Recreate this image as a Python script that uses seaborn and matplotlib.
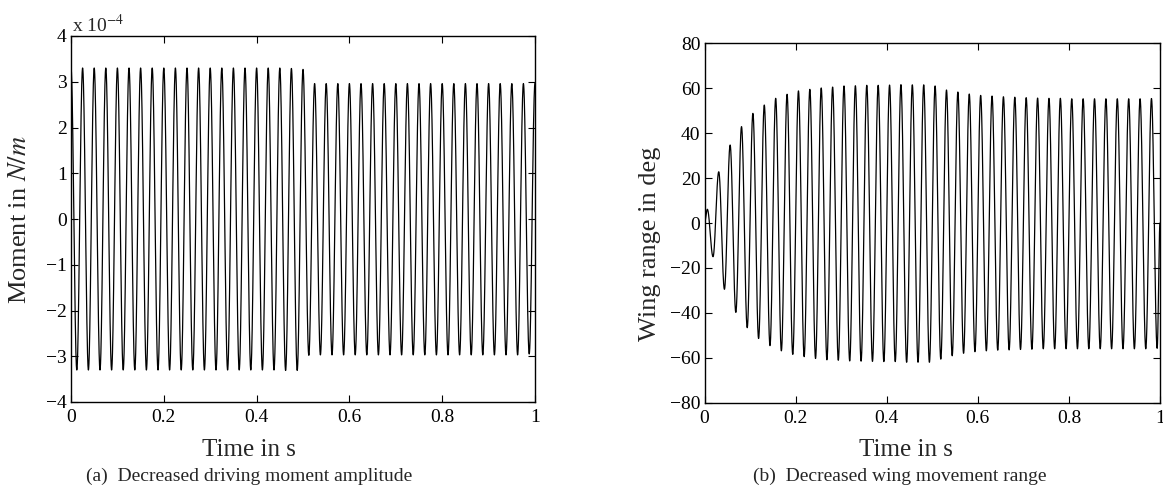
import numpy as np
import pandas as pd
import matplotlib
matplotlib.use("Agg")
import matplotlib.pyplot as plt
from matplotlib.ticker import FuncFormatter, FixedLocator
import seaborn as sns

# ---------------- data ----------------
FREQ_HZ = 40.0  # oscillation frequency (peaks every 0.025 s)

# (a) driving moment, in units of 1e-4 N/m : peaks at t = 0.025*k, troughs at 0.0125 + 0.025*k
moment_peaks_e4 = [3.30, 3.30, 3.30, 3.30, 3.30, 3.30, 3.30, 3.30, 3.30, 3.30,
                   3.30, 3.30, 3.30, 3.30, 3.30, 3.30, 3.30, 3.30, 3.30, 3.29,
                   3.27,
                   2.96, 2.96, 2.96, 2.96, 2.96, 2.96, 2.96, 2.96, 2.96, 2.96,
                   2.96, 2.96, 2.96, 2.96, 2.96, 2.96, 2.96, 2.96, 2.96, 2.97]
moment_troughs_e4 = [-3.30, -3.30, -3.30, -3.30, -3.30, -3.30, -3.30, -3.30, -3.30, -3.30,
                     -3.30, -3.30, -3.30, -3.30, -3.30, -3.30, -3.30, -3.30, -3.31, -3.31,
                     -2.98, -2.97, -2.97, -2.97, -2.97, -2.97, -2.97, -2.97, -2.97, -2.97,
                     -2.97, -2.97, -2.97, -2.97, -2.97, -2.97, -2.97, -2.97, -2.97, -2.95]

# (b) wing angle in deg : peaks at t = 0.00625 + 0.025*k, troughs at 0.01875 + 0.025*k
wing_peaks = [6.1, 22.8, 34.7, 42.9, 48.8, 52.5, 55.5, 57.3, 58.8, 59.5,
              60.1, 60.5, 61.0, 61.1, 61.3, 61.3, 61.4, 61.6, 61.5, 61.5,
              61.0, 59.2, 58.3, 57.4, 56.8, 56.5, 56.2, 56.0, 55.8, 55.6,
              55.5, 55.5, 55.3, 55.3, 55.3, 55.3, 55.3, 55.3, 55.3, 55.4]
wing_troughs = [-15.0, -29.5, -39.8, -46.6, -51.4, -54.6, -56.9, -58.5, -59.5, -60.3,
                -60.9, -61.1, -61.4, -61.5, -61.6, -61.7, -61.7, -62.0, -62.0, -62.0,
                -60.6, -59.1, -58.0, -57.3, -56.9, -56.6, -56.5, -56.3, -56.2, -56.0,
                -56.0, -56.0, -56.0, -56.0, -56.0, -56.0, -56.0, -56.0, -56.0, -55.8]
wing_start = 0.0
wing_end = 0.0

x_ticks = [0, 0.2, 0.4, 0.6, 0.8, 1]
moment_ticks_e4 = [-4, -3, -2, -1, 0, 1, 2, 3, 4]
wing_ticks = [-80, -60, -40, -20, 0, 20, 40, 60, 80]

xlabel_text = "Time in s"
ylabel_a = "Moment in $N/m$"
ylabel_b = "Wing range in deg"
caption_a = "(a)  Decreased driving moment amplitude"
caption_b = "(b)  Decreased wing movement range"


# ---------------- build the oscillation through the read extrema ----------------
def wave_through(ext_t, ext_v, t):
    ext_t = np.asarray(ext_t, float)
    ext_v = np.asarray(ext_v, float)
    idx = np.clip(np.searchsorted(ext_t, t, side="right") - 1, 0, len(ext_t) - 2)
    t0, t1 = ext_t[idx], ext_t[idx + 1]
    v0, v1 = ext_v[idx], ext_v[idx + 1]
    ph = np.clip((t - t0) / (t1 - t0), 0, 1)
    return v0 + (v1 - v0) * (1 - np.cos(np.pi * ph)) / 2


period = 1.0 / FREQ_HZ
t = np.linspace(0, 1, 20001)

# moment
mp_t = [period * k for k in range(len(moment_peaks_e4))]
mt_t = [period / 2 + period * k for k in range(len(moment_troughs_e4))]
m_ext = sorted(zip(mp_t + mt_t, [v * 1e-4 for v in moment_peaks_e4] + [v * 1e-4 for v in moment_troughs_e4]))
moment = wave_through([a for a, _ in m_ext], [b for _, b in m_ext], t)

# wing
wp_t = [period / 4 + period * k for k in range(len(wing_peaks))]
wt_t = [3 * period / 4 + period * k for k in range(len(wing_troughs))]
w_ext = sorted(zip([0.0] + wp_t + wt_t + [1.0], [wing_start] + wing_peaks + wing_troughs + [wing_end]))
wing = wave_through([a for a, _ in w_ext], [b for _, b in w_ext], t)

df_a = pd.DataFrame({"t": t, "v": moment})
df_b = pd.DataFrame({"t": t, "v": wing})

# ---------------- style ----------------
sns.set_style("white")
plt.rcParams["font.family"] = ["Liberation Serif", "DejaVu Serif"]
plt.rcParams["mathtext.fontset"] = "stix"
plt.rcParams["axes.edgecolor"] = "black"
plt.rcParams["axes.linewidth"] = 1.0
plt.rcParams["xtick.direction"] = "in"
plt.rcParams["ytick.direction"] = "in"

W, H = 1163, 488
fig = plt.figure(figsize=(W / 100, H / 100), dpi=100)

ax_a = fig.add_axes([71 / W, 1 - 402 / H, 464 / W, 366 / H])
ax_b = fig.add_axes([704.5 / W, 1 - 402.7 / H, 455.5 / W, 359.4 / H])

sns.lineplot(data=df_a, x="t", y="v", ax=ax_a, color="black", linewidth=0.9,
             estimator=None, sort=False, legend=False)
sns.lineplot(data=df_b, x="t", y="v", ax=ax_b, color="black", linewidth=0.9,
             estimator=None, sort=False, legend=False)

minus = "\u2212"

def fmt_num(v):
    s = f"{v:g}"
    return s.replace("-", minus)

for ax in (ax_a, ax_b):
    ax.set_xlim(0, 1)
    ax.xaxis.set_major_locator(FixedLocator(x_ticks))
    ax.xaxis.set_major_formatter(FuncFormatter(lambda v, p: fmt_num(round(v, 6))))
    ax.tick_params(axis="both", which="major", direction="in", length=5, width=0.8,
                   top=True, right=True, bottom=True, left=True, labelsize=14,
                   colors="black", pad=3)
    ax.tick_params(axis="x", pad=5)
    ax.set_xlabel("")
    ax.set_ylabel("")
    for s in ax.spines.values():
        s.set_visible(True)
        s.set_color("black")
        s.set_linewidth(1.0)
    ax.grid(False)

ax_a.set_ylim(-4e-4, 4e-4)
ax_a.yaxis.set_major_locator(FixedLocator([v * 1e-4 for v in moment_ticks_e4]))
ax_a.yaxis.set_major_formatter(FuncFormatter(lambda v, p: fmt_num(round(v * 1e4, 6))))

ax_b.set_ylim(-80, 80)
ax_b.yaxis.set_major_locator(FixedLocator(wing_ticks))
ax_b.yaxis.set_major_formatter(FuncFormatter(lambda v, p: fmt_num(v)))

# offset text of (a)
fig.text(72 / W, 1 - 32 / H, r"x 10$^{-4}$", fontsize=14, ha="left", va="baseline")

# axis labels
fig.text(249 / W, 1 - 450 / H, xlabel_text, fontsize=18, ha="center", va="center")
fig.text(906 / W, 1 - 450 / H, xlabel_text, fontsize=18, ha="center", va="center")
fig.text(20 / W, 1 - 220 / H, ylabel_a, fontsize=19, ha="center", va="center", rotation=90)
fig.text(650 / W, 1 - 244 / H, ylabel_b, fontsize=19, ha="center", va="center", rotation=90)

# captions
fig.text(249 / W, 1 - 476 / H, caption_a, fontsize=14, ha="center", va="center")
fig.text(900 / W, 1 - 476 / H, caption_b, fontsize=14, ha="center", va="center")

fig.savefig("out.png", dpi=100, facecolor="white")
